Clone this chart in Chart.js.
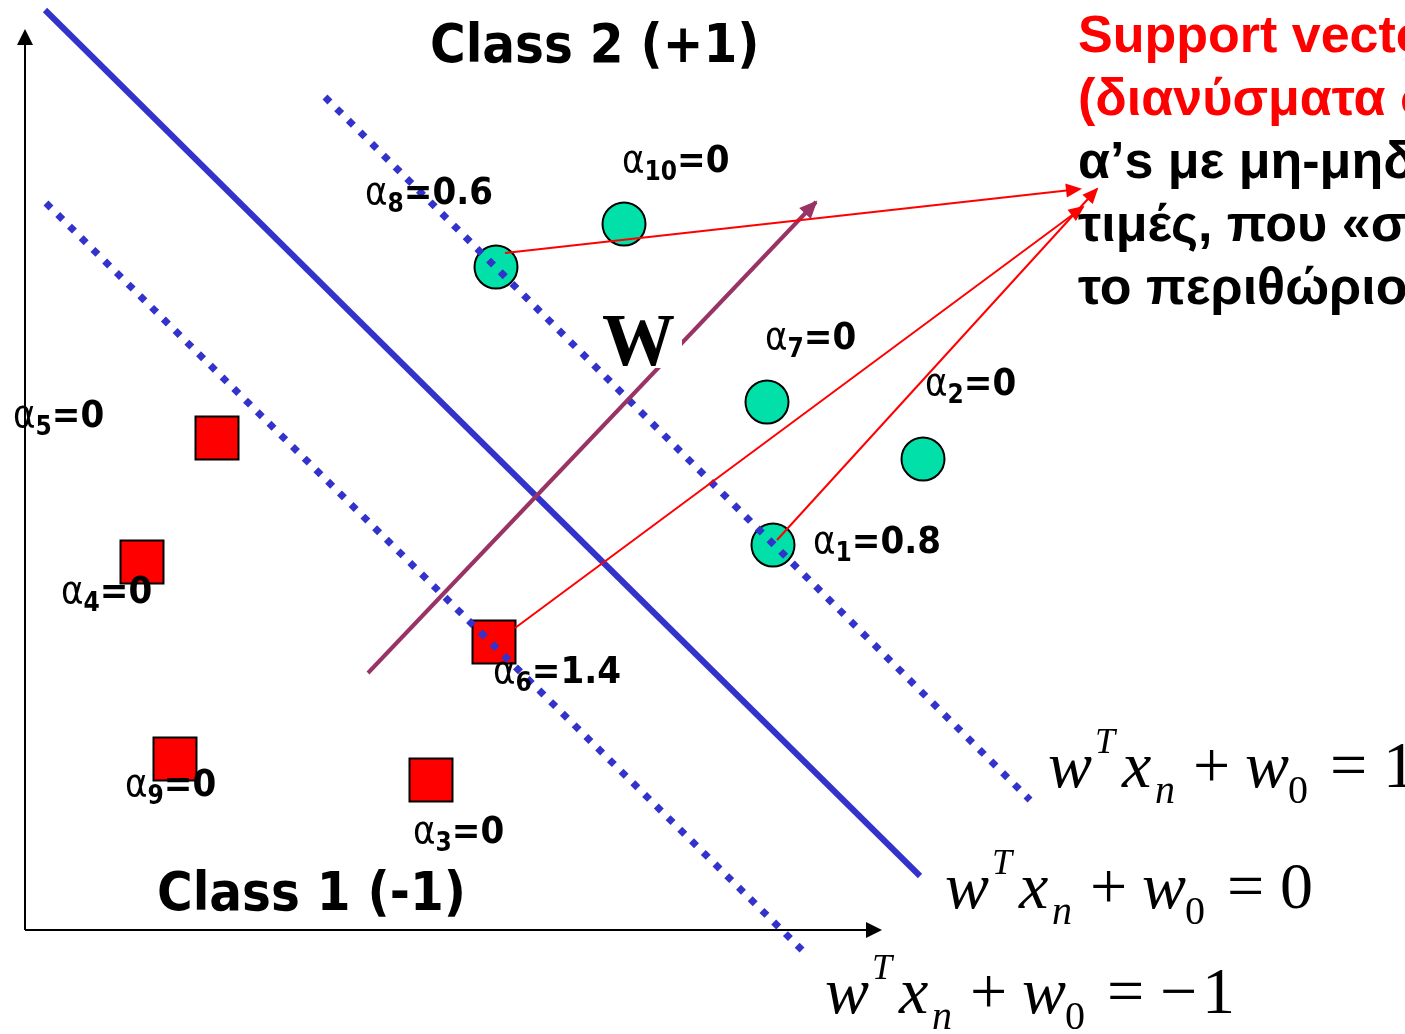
<!DOCTYPE html>
<html>
<head>
<meta charset="utf-8">
<script src="https://cdn.jsdelivr.net/npm/chart.js@4.4.1/dist/chart.umd.min.js"></script>
<style>
  html, body { margin: 0; padding: 0; background: #fff; }
  #wrap { width: 1405px; height: 1034px; position: relative; }
</style>
</head>
<body>
<div id="wrap"><canvas id="svm"></canvas></div>
<script>
// data units: 1 unit = 100px, origin at the corner of the two axes

// class 2 (+1) points, circles
const class2Names = ["1", "2", "7", "8", "10"];
const class2Alpha = ["0.8", "0", "0", "0.6", "0"];
const class2X = [7.48, 8.98, 7.42, 4.71, 5.99];
const class2Y = [3.85, 4.71, 5.28, 6.63, 7.06];

// class 1 (-1) points, squares
const class1Names = ["3", "4", "5", "6", "9"];
const class1Alpha = ["0", "0", "0", "1.4", "0"];
const class1X = [4.06, 1.17, 1.92, 4.69, 1.50];
const class1Y = [1.50, 3.68, 4.92, 2.88, 1.71];

// segments as [x0, y0, x1, y1]
const hyperplane = [0.20, 9.20, 8.95, 0.54];
const marginPlus = [3.00, 8.33, 10.05, 1.30];
const marginMinus = [0.21, 7.27, 7.77, -0.20];
const wVector = [3.43, 2.57, 7.91, 7.28];
const svArrows = [
  [4.80, 6.77, 10.55, 7.41],
  [4.90, 3.02, 10.58, 7.23],
  [7.52, 3.90, 10.72, 7.41]
];
const xAxisLine = [0, 0, 8.55, 0];
const yAxisLine = [0, 0, 0, 8.99];

// texts
const classTitles = ["Class 2 (+1)", "Class 1 (-1)"];
const noteRed = ["Support vectors", "(διανύσματα στήριξης):"];
const noteBlack = ["α’s με μη-μηδενικές", "τιμές, που «στηρίζουν»", "το περιθώριο"];
const eqRhs = ["1", "0", "−1"];

// layout (pixel offsets of the alpha labels from their point, text anchors in data units)
const class2LabelOffset = [[40, 8], [2, -64], [-2, -53], [-131, -63], [-2, -52]];
const class1LabelOffset = [[-18, 63], [-81, 41], [-204, -11], [-1, 41], [-50, 37]];
const titleAnchor = [[4.05, 8.68], [1.32, 0.20]];
const noteAnchor = [10.53, 8.78];
const wAnchor = [5.78, 5.65];
const eqAnchor = [[10.23, 1.43], [9.20, 0.22], [8.00, -0.83]];

const SANS = "'DejaVu Sans Condensed', 'DejaVu Sans', sans-serif";
const ARIAL = "'Liberation Sans', Arial, sans-serif";
const SERIF = "'Liberation Serif', 'Times New Roman', serif";
const BLUE = "#3333CC";
const PURPLE = "#993366";
const RED = "#FF0000";
const TEAL = "#00E0A8";

function seg(s) {
  return [{ x: s[0], y: s[1] }, { x: s[2], y: s[3] }];
}

function lineSet(s, color, width, order, extra) {
  return Object.assign({
    data: seg(s),
    showLine: true,
    borderColor: color,
    borderWidth: width,
    borderCapStyle: "butt",
    pointRadius: 0,
    pointHoverRadius: 0,
    fill: false,
    order: order
  }, extra || {});
}

const datasets = [
  lineSet(xAxisLine, "#000", 2, 10, { arrow: [16, 8] }),
  lineSet(yAxisLine, "#000", 2, 10, { arrow: [16, 8] }),
  lineSet(hyperplane, BLUE, 6, 9),
  {
    data: class1X.map((x, i) => ({ x: x, y: class1Y[i] })),
    pointStyle: "rect",
    pointRadius: 30.4,
    pointHoverRadius: 30.4,
    pointBackgroundColor: RED,
    pointBorderColor: "#000",
    pointBorderWidth: 2,
    order: 8
  },
  {
    data: class2X.map((x, i) => ({ x: x, y: class2Y[i] })),
    pointStyle: "circle",
    pointRadius: 21.5,
    pointHoverRadius: 21.5,
    pointBackgroundColor: TEAL,
    pointBorderColor: "#000",
    pointBorderWidth: 2,
    order: 8
  },
  lineSet(marginPlus, BLUE, 7, 7, { borderDash: [7, 9.5] }),
  lineSet(marginMinus, BLUE, 7, 7, { borderDash: [7, 9.5] }),
  lineSet(wVector, PURPLE, 4, 6, { arrow: [18, 8] })
].concat(svArrows.map((s) => lineSet(s, RED, 2, 5, { arrow: [16, 7] })));

function alphaLabel(ctx, x, y, sub, val) {
  ctx.font = "38px " + SANS;
  ctx.fillText("α", x, y);
  x += ctx.measureText("α").width;
  ctx.font = "bold 26px " + SANS;
  ctx.fillText(sub, x, y + 8);
  x += ctx.measureText(sub).width;
  ctx.font = "bold 38px " + SANS;
  ctx.fillText("=" + val, x, y);
}

function equation(ctx, x, y, rhs) {
  const big = "66px " + SERIF;
  const bigIt = "italic 66px " + SERIF;
  const small = "40px " + SERIF;
  const smallIt = "italic 40px " + SERIF;
  const parts = [
    ["w", 0, 0, bigIt], ["T", 47, -34, "italic 36px " + SERIF], ["x", 74, 0, bigIt],
    ["n", 107, 16, smallIt], ["+", 145, 0, big], ["w", 197, 0, bigIt],
    ["0", 240, 16, small], ["=", 282, 0, big]
  ];
  if (rhs.length > 1) {
    parts.push(["−", 335, 0, big], [rhs.slice(1), 377, 0, big]);
  } else {
    parts.push([rhs, 335, 0, big]);
  }
  parts.forEach((p) => {
    ctx.font = p[3];
    ctx.fillText(p[0], x + p[1], y + p[2]);
  });
}

const svmPlugin = {
  id: "svmDrawing",
  beforeDraw(chart) {
    const ctx = chart.ctx;
    ctx.save();
    ctx.fillStyle = "#fff";
    ctx.fillRect(0, 0, chart.width, chart.height);
    ctx.restore();
  },
  afterDatasetsDraw(chart) {
    const ctx = chart.ctx;
    ctx.save();
    chart.data.datasets.forEach((ds, i) => {
      if (!ds.arrow) return;
      const pts = chart.getDatasetMeta(i).data;
      const a = pts[0], b = pts[1];
      const ang = Math.atan2(b.y - a.y, b.x - a.x);
      const len = ds.arrow[0], half = ds.arrow[1];
      const tx = b.x + Math.cos(ang) * 2, ty = b.y + Math.sin(ang) * 2;
      ctx.fillStyle = ds.borderColor;
      ctx.beginPath();
      ctx.moveTo(tx, ty);
      ctx.lineTo(tx - len * Math.cos(ang) - half * Math.sin(ang), ty - len * Math.sin(ang) + half * Math.cos(ang));
      ctx.lineTo(tx - len * Math.cos(ang) + half * Math.sin(ang), ty - len * Math.sin(ang) - half * Math.cos(ang));
      ctx.closePath();
      ctx.fill();
    });
    ctx.restore();
  },
  afterDraw(chart) {
    const ctx = chart.ctx;
    const sx = chart.scales.x, sy = chart.scales.y;
    const X = (v) => sx.getPixelForValue(v);
    const Y = (v) => sy.getPixelForValue(v);
    ctx.save();
    ctx.textAlign = "left";
    ctx.textBaseline = "alphabetic";

    // W label sits on a white box that hides part of the vector
    const wx = X(wAnchor[0]), wy = Y(wAnchor[1]);
    ctx.fillStyle = "#fff";
    ctx.fillRect(wx + 3, wy - 53, 76, 56);
    ctx.save();
    ctx.beginPath();
    ctx.rect(wx - 5, wy - 60, 84, 70);
    ctx.clip();
    ctx.fillStyle = "#000";
    ctx.font = "bold 73px " + SERIF;
    ctx.fillText("W", wx - 1, wy);
    ctx.restore();

    // alpha labels
    ctx.fillStyle = "#000";
    class2X.forEach((x, i) => {
      alphaLabel(ctx, X(x) + class2LabelOffset[i][0], Y(class2Y[i]) + class2LabelOffset[i][1], class2Names[i], class2Alpha[i]);
    });
    class1X.forEach((x, i) => {
      alphaLabel(ctx, X(x) + class1LabelOffset[i][0], Y(class1Y[i]) + class1LabelOffset[i][1], class1Names[i], class1Alpha[i]);
    });

    // class titles
    ctx.font = "bold 54px " + SANS;
    classTitles.forEach((t, i) => ctx.fillText(t, X(titleAnchor[i][0]), Y(titleAnchor[i][1])));

    // note on the right
    ctx.font = "bold 52px " + ARIAL;
    const nx = X(noteAnchor[0]);
    let ny = Y(noteAnchor[1]);
    ctx.fillStyle = RED;
    noteRed.forEach((t) => { ctx.fillText(t, nx, ny); ny += 63; });
    ctx.fillStyle = "#000";
    noteBlack.forEach((t) => { ctx.fillText(t, nx, ny); ny += 63; });

    // equations of the three lines
    eqRhs.forEach((r, i) => equation(ctx, X(eqAnchor[i][0]), Y(eqAnchor[i][1]), r));
    ctx.restore();
  }
};

new Chart(document.getElementById("svm"), {
  type: "scatter",
  data: { datasets: datasets },
  options: {
    responsive: true,
    maintainAspectRatio: false,
    animation: false,
    events: [],
    layout: { padding: 0, autoPadding: false },
    plugins: { legend: { display: false }, tooltip: { enabled: false } },
    scales: {
      x: { type: "linear", min: -0.25, max: 13.80, display: false },
      y: { type: "linear", min: -1.04, max: 9.30, display: false }
    }
  },
  plugins: [svmPlugin]
});
</script>
</body>
</html>
